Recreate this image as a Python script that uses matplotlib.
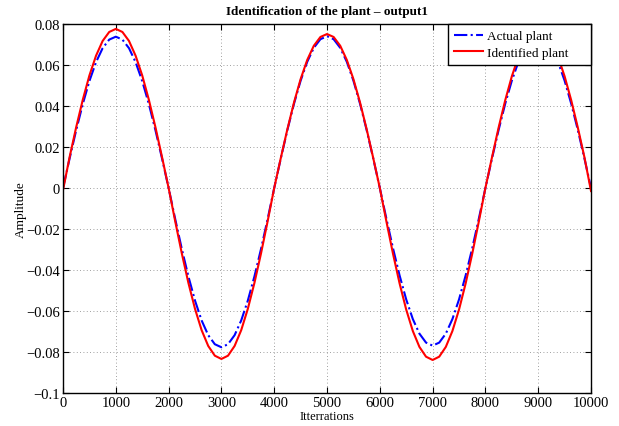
import numpy as np
import matplotlib
matplotlib.use("Agg")
import matplotlib.pyplot as plt

# === Data (every 125 iterations) ===
iterations = np.arange(0, 10001, 125)

actual_plant = [
    0.0, 0.0144, 0.02824, 0.041, 0.05218, 0.06136, 0.06818, 0.07238, 0.0738,
    0.07238, 0.06818, 0.06136, 0.05218, 0.041, 0.02824, 0.0144,
    0.0, -0.01516, -0.02974, -0.04317, -0.05494, -0.06461, -0.07179, -0.07621, -0.0777,
    -0.07621, -0.07179, -0.06461, -0.05494, -0.04317, -0.02974, -0.01516,
    0.0, 0.01444, 0.02832, 0.04111, 0.05233, 0.06153, 0.06837, 0.07258, 0.074,
    0.07258, 0.06837, 0.06153, 0.05233, 0.04111, 0.02832, 0.01444,
    0.0, -0.015, -0.02943, -0.04273, -0.05438, -0.06394, -0.07105, -0.07542, -0.0769,
    -0.07542, -0.07105, -0.06394, -0.05438, -0.04273, -0.02943, -0.015,
    0.0, 0.01444, 0.02832, 0.04111, 0.05233, 0.06153, 0.06837, 0.07258, 0.074,
    0.07258, 0.06837, 0.06153, 0.05233, 0.04111, 0.02832, 0.01444, 0.0,
]

identified_plant = [
    -0.001, 0.0151, 0.0297, 0.0431, 0.0549, 0.0645, 0.0717, 0.0761, 0.0776,
    0.0761, 0.0717, 0.0645, 0.0549, 0.0431, 0.0297, 0.0151,
    0.0, -0.01627, -0.03192, -0.04634, -0.05897, -0.06935, -0.07705, -0.0818, -0.0834,
    -0.0818, -0.07705, -0.06935, -0.05897, -0.04634, -0.03192, -0.01627,
    0.0, 0.01465, 0.02874, 0.04173, 0.0531, 0.06245, 0.06938, 0.07366, 0.0751,
    0.07366, 0.06938, 0.06245, 0.0531, 0.04173, 0.02874, 0.01465,
    0.0, -0.01637, -0.03211, -0.04661, -0.05933, -0.06976, -0.07752, -0.08229, -0.0839,
    -0.08229, -0.07752, -0.06976, -0.05933, -0.04661, -0.03211, -0.01637,
    0.0, 0.01502, 0.02947, 0.04278, 0.05445, 0.06403, 0.07114, 0.07552, 0.077,
    0.07552, 0.07114, 0.06403, 0.05445, 0.04278, 0.02947, 0.01502, -0.0015,
]

x_ticks = np.arange(0, 10001, 1000)
y_ticks = np.arange(-0.1, 0.081, 0.02)
y_tick_labels = ["\u22120.1", "\u22120.08", "\u22120.06", "\u22120.04", "\u22120.02",
                 "0", "0.02", "0.04", "0.06", "0.08"]

# === Style ===
plt.rcParams["font.family"] = ["Liberation Serif", "DejaVu Serif"]
plt.rcParams["font.size"] = 10.5

fig = plt.figure(figsize=(6.19, 4.27), dpi=100)
ax = fig.add_axes([0.1018, 0.0773, 0.853, 0.8642])

ax.plot(iterations, actual_plant, "-.", color="blue", lw=1.5, label="Actual plant")
ax.plot(iterations, identified_plant, "-", color="red", lw=1.5, label="Identified plant")

ax.set_xlim(0, 10000)
ax.set_ylim(-0.1, 0.08)
ax.set_xticks(x_ticks)
ax.set_yticks(y_ticks)
ax.set_yticklabels(y_tick_labels)
ax.tick_params(direction="in", top=True, right=True, length=4, pad=2)
ax.grid(True, linestyle=(0, (1, 3)), color="gray", lw=0.6)
for s in ax.spines.values():
    s.set_linewidth(1.0)

ax.set_title("Identification of the plant \u2013 output1", fontweight="bold", fontsize=9.5, pad=7)
ax.set_xlabel("Itterrations", fontsize=9, labelpad=1)
ax.set_ylabel("Amplitude", fontsize=9.5, labelpad=0)

# matlab-style legend box: wider than its text
leg = ax.legend(loc="upper right", bbox_to_anchor=(0.729, 0.894, 0.271, 0.106),
                mode="expand", borderaxespad=0, fancybox=False, framealpha=1,
                edgecolor="black", handlelength=2.2, handletextpad=0.3,
                borderpad=0.45, labelspacing=0.35, fontsize=9.5)
leg.get_frame().set_linewidth(1.0)

plt.savefig("out.png", dpi=100)
